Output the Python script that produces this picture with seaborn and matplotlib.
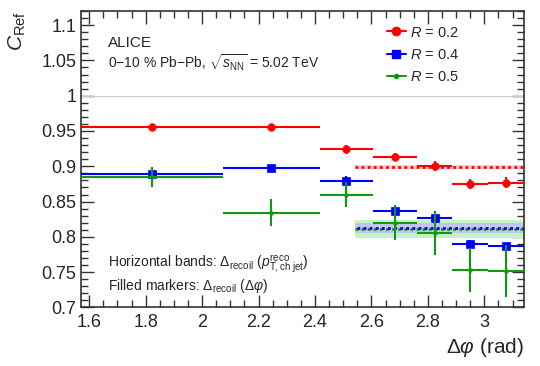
import numpy as np
import pandas as pd
import seaborn as sns
import matplotlib.pyplot as plt
from matplotlib.lines import Line2D
from matplotlib.ticker import MultipleLocator

# bins in delta phi
bin_lo = [np.pi / 2, 2.073, 2.418, 2.605, 2.761, 2.887, 3.014]
bin_hi = [2.073, 2.418, 2.605, 2.761, 2.887, 3.014, np.pi]
x_pts = [1.822, 2.244, 2.509, 2.683, 2.825, 2.949, 3.075]

# C_Ref per jet radius
c_r02 = [0.955, 0.956, 0.924, 0.913, 0.900, 0.875, 0.877]
e_r02 = [0.002, 0.002, 0.006, 0.006, 0.007, 0.007, 0.008]
c_r04 = [0.889, 0.898, 0.879, 0.836, 0.827, 0.790, 0.787]
e_r04 = [0.003, 0.004, 0.007, 0.008, 0.007, 0.005, 0.005]
c_r05 = [0.885, 0.834, 0.860, 0.820, 0.806, 0.753, 0.752]
e_r05 = [0.014, 0.019, 0.018, 0.025, 0.031, 0.031, 0.037]

# horizontal bands (from pT,ch jet)
band_x0 = 2.54
band_val = [0.899, 0.812, 0.811]
band_err = [0.0035, 0.007, 0.0125]

labels = ['$R$ = 0.2', '$R$ = 0.4', '$R$ = 0.5']
colors = ['#ff0000', '#0000ff', '#119911']
band_colors = ['#ffcccc', '#c4c4f4', '#c4f4c4']
markers = ['o', 's', 'o']
msizes = [30, 30, 7]

sns.set_theme(style='ticks')
plt.rcParams['font.family'] = ['Liberation Sans', 'DejaVu Sans']
plt.rcParams['mathtext.fontset'] = 'custom'
plt.rcParams['mathtext.rm'] = 'Liberation Sans'
plt.rcParams['mathtext.it'] = 'Liberation Sans:italic'
plt.rcParams['mathtext.fallback'] = 'cm'

fig = plt.figure(figsize=(5.4, 3.66), dpi=100)
ax = fig.add_axes([0.15, 0.16, 0.821, 0.81])

ax.axhline(1.0, color='#cccccc', lw=0.8, zorder=1)

# bands: green widest first
for i in [2, 1, 0]:
    ax.fill_between([band_x0, np.pi], band_val[i] - band_err[i], band_val[i] + band_err[i],
                    color=band_colors[i], lw=0, zorder=2)
for i in [2, 1, 0]:
    ax.plot([band_x0, np.pi], [band_val[i], band_val[i]], color=colors[i], lw=2,
            ls=(0 if i != 1 else 1.5, (1.0, 1.2)), zorder=3)

series = [(c_r02, e_r02), (c_r04, e_r04), (c_r05, e_r05)]
for i, (vals, errs) in enumerate(series):
    xerr = [np.array(x_pts) - np.array(bin_lo), np.array(bin_hi) - np.array(x_pts)]
    ax.errorbar(x_pts, vals, xerr=xerr, yerr=errs, fmt='none', ecolor=colors[i],
                elinewidth=1.5, capsize=0, zorder=4 + i)
    df = pd.DataFrame({'dphi': x_pts, 'c': vals})
    sns.scatterplot(data=df, x='dphi', y='c', marker=markers[i], s=msizes[i],
                    color=colors[i], edgecolor=colors[i], linewidth=0.5, ax=ax, zorder=5 + i)

ax.set_xlim(np.pi / 2, np.pi)
ax.set_ylim(0.7, 1.12)
ax.xaxis.set_minor_locator(MultipleLocator(0.05))
ax.yaxis.set_minor_locator(MultipleLocator(0.01))
ax.set_yticks([0.7, 0.75, 0.8, 0.85, 0.9, 0.95, 1.0, 1.05, 1.1])
ax.set_yticklabels(['0.7', '0.75', '0.8', '0.85', '0.9', '0.95', '1', '1.05', '1.1'])
ax.set_xticks([1.6, 1.8, 2.0, 2.2, 2.4, 2.6, 2.8, 3.0])
ax.set_xticklabels(['1.6', '1.8', '2', '2.2', '2.4', '2.6', '2.8', '3'])
ax.tick_params(which='both', direction='in', top=True, right=True, labelsize=13, color='#333333')
ax.tick_params(which='major', length=9, width=1)
ax.tick_params(which='minor', length=5, width=1)
ax.tick_params(axis='x', pad=5)
for sp in ax.spines.values():
    sp.set_linewidth(1.2)
    sp.set_color('#333333')

ax.set_xlabel(r'$\Delta\varphi$ (rad)', fontsize=15, loc='right', labelpad=3)
ax.set_ylabel(r'$C_{\rm Ref}$', fontsize=15, loc='top')
ax.yaxis.set_label_coords(-0.12, 1.0)

ax.text(0.061, 0.892, 'ALICE', transform=ax.transAxes, fontsize=11, va='center')
ax.text(0.061, 0.826, r'0$-$10 % Pb$-$Pb, $\sqrt{s_{\rm NN}}$ = 5.02 TeV',
        transform=ax.transAxes, fontsize=10, va='center')
ax.text(0.061, 0.147, r'Horizontal bands: $\Delta_{\rm recoil}$ ($p_{\rm T,ch\ jet}^{\rm reco}$)',
        transform=ax.transAxes, fontsize=10, va='center')
ax.text(0.061, 0.073, r'Filled markers: $\Delta_{\rm recoil}$ ($\Delta\varphi$)',
        transform=ax.transAxes, fontsize=10, va='center')

handles = [Line2D([], [], color=colors[i], marker=markers[i], lw=1.5,
                  markersize=[6, 6, 3][i]) for i in range(3)]
ax.legend(handles, labels, loc='upper left', bbox_to_anchor=(0.66, 0.995), frameon=False,
          fontsize=10.5, handlelength=1.3, handletextpad=0.3, labelspacing=0.55)

fig.savefig('out.png', dpi=100)
